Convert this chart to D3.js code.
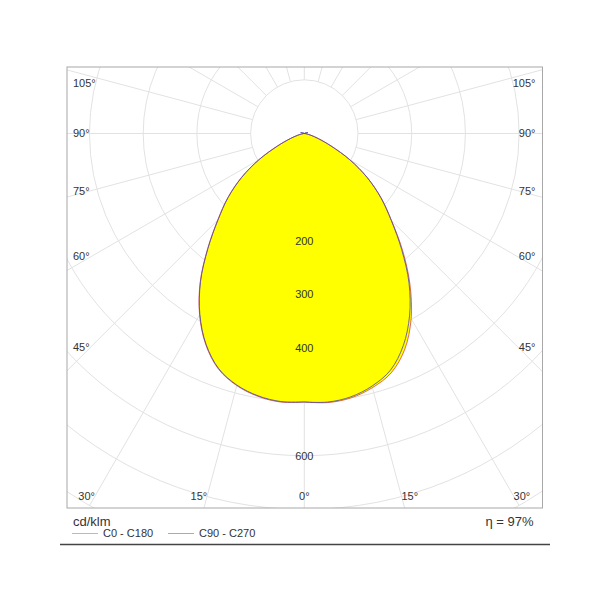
<!DOCTYPE html>
<html>
<head>
<meta charset="utf-8">
<script src="https://cdn.jsdelivr.net/npm/d3@7"></script>
<style>
  html, body { margin: 0; padding: 0; background: #fff; }
  svg { display: block; }
  text { font-family: "Liberation Sans", Arial, sans-serif; }
</style>
</head>
<body>
<svg id="chart" width="600" height="600"></svg>
<script>
// ---- data (cd/klm) ----
const gammas = [0,5,10,15,20,25,30,35,40,45,50,55,60,65,70,75,80,85,90,105,120,135,150,165,180];
const c0   = [500,503,500,490,474,443,398,343,285,230,187,143,98,55,28,13,5,2,0,0,0,0,0,0,0];
const c180 = [500,502,497,486,467,434,390,338,280,228,186,143,98,55,28,13,5,2,0,0,0,0,0,0,0];
const c90  = [500,502,498,487,469,436,392,340,282,229,186,143,98,55,28,13,5,2,0,7,2,0,0,0,0];
const c270 = [500,501,496,485,466,433,389,337,279,227,185,142,97,55,28,13,5,2,0,7,2,0,0,0,0];
const ringValues = [100,200,300,400,500,600,700,800];
const ringLabels = [200,300,400,600];
const spokeAngles = d3.range(0, 360, 15);
const sideLabelAngles = [105,90,75,60,45];
const bottomLabelAngles = [30,15,0];
const seriesNames = ["C0 - C180","C90 - C270"];
const seriesColors = ["#d84848","#4848b8"];
const unitLabel = "cd/klm";
const efficiency = "\u03B7 = 97%";

// ---- layout ----
const svg = d3.select("#chart");
const frame = {x0: 67, y0: 67, x1: 542.5, y1: 508};
const cx = 304.3, cy = 133.5;
const r = d3.scaleLinear().domain([0, 100]).range([0, 53.7]);

const defs = svg.append("defs");
defs.append("clipPath").attr("id","clip").append("rect")
  .attr("x", frame.x0).attr("y", frame.y0)
  .attr("width", frame.x1 - frame.x0).attr("height", frame.y1 - frame.y0);

const g = svg.append("g").attr("clip-path","url(#clip)");
const center = g.append("g").attr("transform", `translate(${cx},${cy})`);

// grid circles
center.selectAll("circle.ring").data(ringValues).join("circle")
  .attr("class","ring").attr("r", d => r(d))
  .attr("fill","none").attr("stroke","#e2e2e2").attr("stroke-width",1);

// spokes, starting at first ring
const rad = a => a * Math.PI / 180;
center.selectAll("line.spoke").data(spokeAngles).join("line")
  .attr("class","spoke")
  .attr("x1", d => r(ringValues[0]) * Math.sin(rad(d)))
  .attr("y1", d => r(ringValues[0]) * Math.cos(rad(d)))
  .attr("x2", d => r(ringValues[ringValues.length-1]) * Math.sin(rad(d)))
  .attr("y2", d => r(ringValues[ringValues.length-1]) * Math.cos(rad(d)))
  .attr("stroke","#e2e2e2").attr("stroke-width",1);

// curves
function curvePoints(right, left) {
  const pts = [];
  gammas.forEach((gm, i) => pts.push({a: Math.PI - rad(gm), v: right[i]}));
  for (let i = gammas.length - 1; i >= 0; i--) pts.push({a: Math.PI + rad(gammas[i]), v: left[i]});
  return pts;
}
const series = [curvePoints(c0, c180), curvePoints(c90, c270)];
const line = d3.lineRadial().angle(d => d.a).radius(d => r(d.v)).curve(d3.curveCatmullRomClosed.alpha(0.5));

center.selectAll("path.fill").data(series).join("path")
  .attr("class","fill").attr("d", line)
  .attr("fill","#ffff00").attr("stroke","none");
center.selectAll("path.curve").data(series).join("path")
  .attr("class","curve").attr("d", line)
  .attr("fill","none").attr("stroke", (d,i) => seriesColors[i]).attr("stroke-width",0.8);

// ring labels
center.selectAll("text.rl").data(ringLabels).join("text")
  .attr("class","rl").attr("x", 0).attr("y", d => r(d)).attr("dy","0.35em")
  .attr("text-anchor","middle").attr("font-size", 11).attr("fill","#333")
  .text(d => d);

// frame
svg.append("rect").attr("x", frame.x0).attr("y", frame.y0)
  .attr("width", frame.x1 - frame.x0).attr("height", frame.y1 - frame.y0)
  .attr("fill","none").attr("stroke","#a8a8a8").attr("stroke-width",1);

// angle labels on sides
const inset = cx - frame.x0 - 24;
const sideY = d => Math.max(frame.y0 + 16, cy + inset * Math.cos(rad(d)) / Math.sin(rad(d)));
svg.selectAll("text.sl").data(sideLabelAngles).join("text")
  .attr("class","sl").attr("x", frame.x0 + 6).attr("y", sideY).attr("dy","0.35em")
  .attr("font-size", 11).attr("fill","#333").text(d => d + "\u00B0");
svg.selectAll("text.sr").data(sideLabelAngles).join("text")
  .attr("class","sr").attr("x", frame.x1 - 7).attr("y", sideY).attr("dy","0.35em")
  .attr("text-anchor","end").attr("font-size", 11).attr("fill","#333").text(d => d + "\u00B0");

// bottom angle labels
const by = frame.y1 - 12;
const bottomLabels = [];
bottomLabelAngles.forEach(d => {
  const dx = (by - cy) * Math.tan(rad(d));
  if (d === 0) bottomLabels.push({d, x: cx, anchor: "middle"});
  else {
    bottomLabels.push({d, x: cx - dx, anchor: "end"});
    bottomLabels.push({d, x: cx + dx, anchor: "start"});
  }
});
svg.selectAll("text.bl").data(bottomLabels).join("text")
  .attr("class","bl").attr("x", d => d.x).attr("y", by).attr("dy","0.35em")
  .attr("text-anchor", d => d.anchor).attr("font-size", 11).attr("fill","#333")
  .text(d => d.d + "\u00B0");

// legend / footer
svg.append("text").attr("x", 73).attr("y", 526).attr("font-size", 13).attr("fill","#333").text(unitLabel);
svg.append("text").attr("x", frame.x1 - 9).attr("y", 526).attr("text-anchor","end")
  .attr("font-size", 13).attr("fill","#333").text(efficiency);

const legendX = [72, 168];
seriesNames.forEach((name, i) => {
  svg.append("line").attr("x1", legendX[i]).attr("x2", legendX[i] + 26)
    .attr("y1", 533.5).attr("y2", 533.5).attr("stroke", seriesColors[i]).attr("stroke-width", 0.7).attr("opacity",0.7);
  svg.append("text").attr("x", legendX[i] + 31).attr("y", 533.5).attr("dy","0.35em")
    .attr("font-size", 11).attr("fill","#333").text(name);
});

svg.append("line").attr("x1", 60).attr("x2", 550).attr("y1", 544.5).attr("y2", 544.5)
  .attr("stroke","#444").attr("stroke-width", 1.6);
</script>
</body>
</html>
